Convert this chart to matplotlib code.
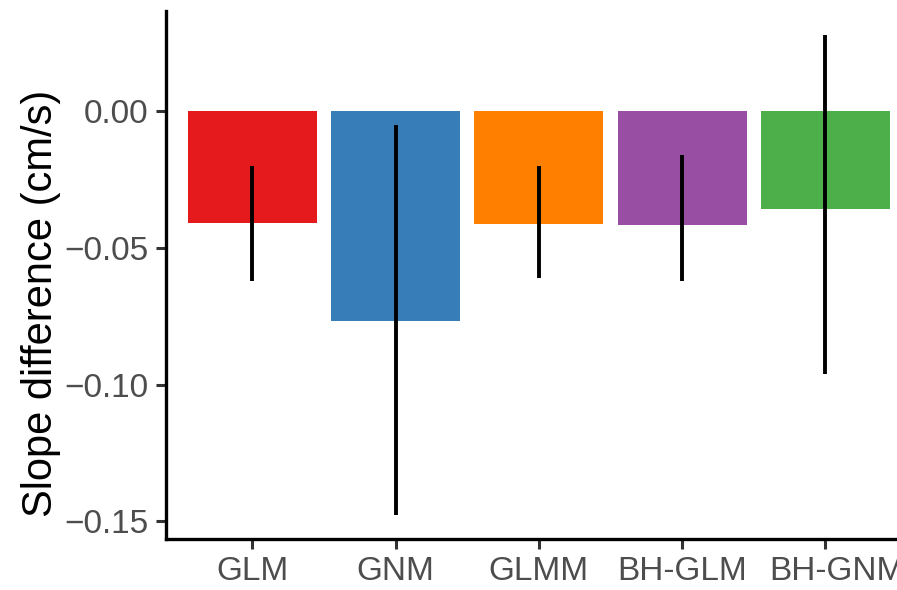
import matplotlib
matplotlib.use("Agg")
import matplotlib.pyplot as plt
import matplotlib.transforms as mtransforms
import numpy as np

plt.rcParams['font.family'] = ['Liberation Sans', 'DejaVu Sans']

# Model comparison: mean slope difference with interval bounds
models = ["GLM", "GNM", "GLMM", "BH-GLM", "BH-GNM"]
slope_diff = [-0.0408, -0.0767, -0.0412, -0.0416, -0.0358]
lower = [-0.0619, -0.1478, -0.0610, -0.0621, -0.0960]
upper = [-0.0201, -0.0051, -0.0201, -0.0160, 0.0281]
colors = ["#E41A1C", "#377EB8", "#FF7F00", "#984EA3", "#4DAF4A"]

fig = plt.figure(figsize=(8.97, 5.90), dpi=100)
ax = fig.add_axes([0.1854, 0.0859, 0.8305, 0.896])

x = np.arange(1, len(models) + 1)
ax.bar(x, slope_diff, width=0.9, color=colors, zorder=2)
ax.vlines(x, lower, upper, color="black", linewidth=2.8, zorder=3)

ax.set_xlim(0.4, 5.6)
lo = min(lower + slope_diff + [0])
hi = max(upper + slope_diff + [0])
pad = (hi - lo) * 0.05
ax.set_ylim(lo - pad, hi + pad)

ax.set_xticks(x)
ax.set_xticklabels(models)
ax.set_yticks([0.0, -0.05, -0.10, -0.15])
ax.set_yticklabels(["0.00", "\u22120.05", "\u22120.10", "\u22120.15"])

for side in ("top", "right"):
    ax.spines[side].set_visible(False)
for side in ("left", "bottom"):
    ax.spines[side].set_linewidth(2.4)
    ax.spines[side].set_color("black")

ax.tick_params(axis="both", length=7, width=2.2, color="#333333",
               labelcolor="#4D4D4D", labelsize=24)
ax.tick_params(axis="y", pad=6)
ax.tick_params(axis="x", pad=5)

# last category label sits slightly right of its tick, running off the edge
last = ax.get_xticklabels()[-1]
last.set_transform(last.get_transform() +
                   mtransforms.ScaledTranslation(0.12, 0, fig.dpi_scale_trans))

ax.set_ylabel("Slope difference (cm/s)", fontsize=30, color="black")
ax.yaxis.set_label_coords(-0.1413, 0.447)

fig.savefig("out.png", dpi=100)
